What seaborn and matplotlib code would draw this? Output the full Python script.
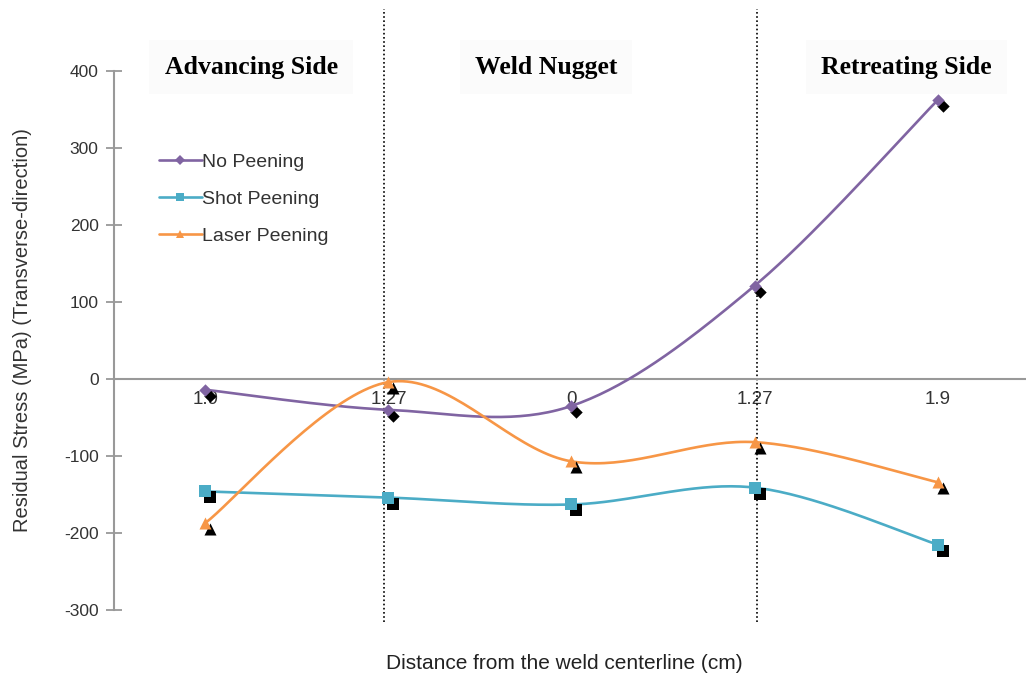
import numpy as np
import pandas as pd
import matplotlib
matplotlib.use("Agg")
import matplotlib.pyplot as plt
import matplotlib.transforms as mtransforms
from matplotlib.lines import Line2D
import seaborn as sns

# data
positions = ["1.9", "1.27", "0", "1.27", "1.9"]
no_peening = [-14, -40, -35, 121, 362]
shot_peening = [-146, -154, -163, -141, -215]
laser_peening = [-187, -4, -107, -82, -134]
zones = ["Advancing Side", "Weld Nugget", "Retreating Side"]

series = {
    "No Peening": (no_peening, "#8064A2", "D"),
    "Shot Peening": (shot_peening, "#4BACC6", "s"),
    "Laser Peening": (laser_peening, "#F79646", "^"),
}
msize = {"D": 40, "s": 70, "^": 75}


def smooth(xs, ys, n=40):
    # excel-like smoothed line (catmull-rom bezier)
    pts = np.column_stack([xs, ys]).astype(float)
    ext = np.vstack([pts[0], pts, pts[-1]])
    out = []
    for i in range(len(pts) - 1):
        p0, p1, p2, p3 = ext[i], ext[i + 1], ext[i + 2], ext[i + 3]
        c1 = p1 + (p2 - p0) / 6
        c2 = p2 - (p3 - p1) / 6
        t = np.linspace(0, 1, n)[:, None]
        seg = ((1 - t) ** 3) * p1 + 3 * ((1 - t) ** 2) * t * c1 + 3 * (1 - t) * t ** 2 * c2 + t ** 3 * p2
        out.append(seg)
    arr = np.vstack(out)
    return arr[:, 0], arr[:, 1]


sns.set_style("white")
plt.rcParams["font.family"] = ["Liberation Sans", "DejaVu Sans"]
plt.rcParams["axes.unicode_minus"] = False

fig = plt.figure(figsize=(10.26, 6.82), dpi=100)
ax = fig.add_axes([0.111, 0.1056, 0.892, 0.7903])

x = np.arange(len(positions))
shadow = ax.transData + mtransforms.ScaledTranslation(0.05, -0.06, fig.dpi_scale_trans)

rows = []
for name, (vals, col, mk) in series.items():
    sx, sy = smooth(x, vals)
    ax.plot(sx, sy, color=col, lw=1.9, zorder=3)
    for xi, v in zip(x, vals):
        rows.append({"pos": xi, "stress": v, "series": name})

df = pd.DataFrame(rows)

# black offset markers behind colored ones, then the colored markers
for name, (vals, col, mk) in series.items():
    sub = df[df["series"] == name]
    sns.scatterplot(data=sub, x="pos", y="stress", marker=mk, color="black",
                    s=msize[mk], linewidth=0, ax=ax, zorder=4,
                    transform=shadow, legend=False)
    sns.scatterplot(data=sub, x="pos", y="stress", marker=mk, color=col,
                    s=msize[mk], linewidth=0, ax=ax, zorder=5, legend=False)

ax.set_xlim(-0.5, 4.5)
ax.set_ylim(-300, 400)
ax.set_yticks(range(-300, 401, 100))
ax.set_xticks(x)
ax.set_xticklabels(positions)

for s in ["top", "right"]:
    ax.spines[s].set_visible(False)
ax.spines["left"].set_color("#999999")
ax.spines["left"].set_linewidth(1.5)
ax.spines["bottom"].set_position(("data", 0))
ax.spines["bottom"].set_color("#999999")
ax.spines["bottom"].set_linewidth(1.5)
ax.tick_params(axis="y", direction="inout", length=12, width=1.3, color="#999999",
               labelsize=12.5, labelcolor="#333333", pad=5, left=True)
ax.tick_params(axis="x", length=0, labelsize=13.5, labelcolor="#333333", pad=9)
for lab in ax.get_xticklabels():
    lab.set_zorder(2)

ax.set_xlabel("")
ax.set_ylabel("Residual Stress (MPa) (Transverse-direction)", fontsize=14.5,
              color="#333333")
ax.yaxis.set_label_coords(-0.09, 0.52)
fig.text(0.55, 0.027, "Distance from the weld centerline (cm)", ha="center",
         va="center", fontsize=15, color="#222222")

# zone boundaries
for bx in [0.974, 3.015]:
    ax.plot([bx, bx], [-315, 480], color="black", ls=(0, (1, 1.5)), lw=1.2,
            clip_on=False, zorder=2)

zone_x = [0.25, 1.86, 3.83]
for zx, zn in zip(zone_x, zones):
    ax.text(zx, 405, zn, ha="center", va="center", fontsize=18.5, fontweight="bold",
            family=["Liberation Serif", "DejaVu Serif"], color="black",
            bbox=dict(facecolor="#fbfbfb", edgecolor="none", pad=11), zorder=6)

handles = [Line2D([0], [0], color=c, lw=1.9, marker=m, markersize=6 if m != "D" else 5,
                  markeredgewidth=0) for _, (v, c, m) in series.items()]
leg = ax.legend(handles, list(series.keys()), loc="upper left",
                bbox_to_anchor=(0.03, 0.88), frameon=False, fontsize=14,
                handlelength=2.2, handletextpad=0.0, labelspacing=1.0)
for t in leg.get_texts():
    t.set_color("#333333")

fig.savefig("out.png", dpi=100)
